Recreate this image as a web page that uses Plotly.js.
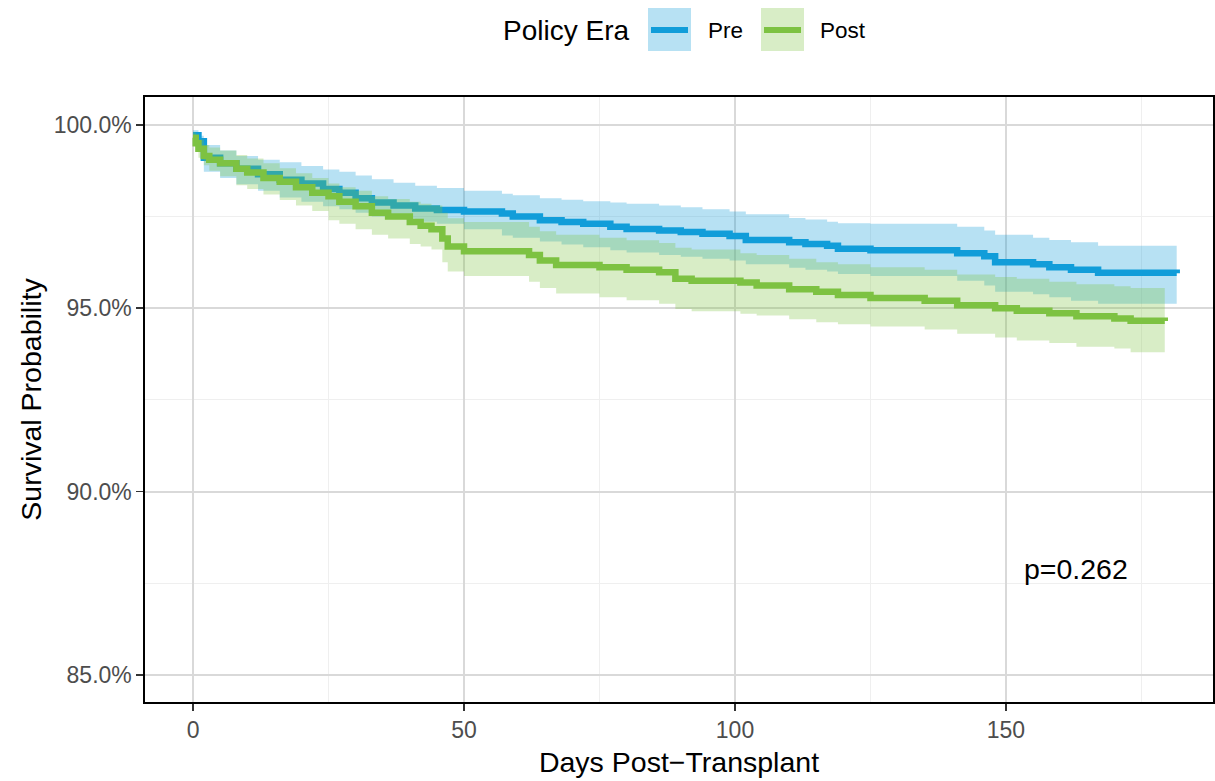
<!DOCTYPE html>
<html>
<head>
<meta charset="utf-8">
<script src="https://cdn.plot.ly/plotly-3.0.1.min.js"></script>
<style>html,body{margin:0;padding:0;background:#fff;}#chart{width:1215px;height:781px;}</style>
</head>
<body>
<div id="chart"></div>
<script>
// ---- Data (survival probability, %) ----
const preDays  = [0, 1, 2, 5, 8, 12, 16, 20, 24, 27, 30, 33, 37, 41, 45, 50, 57, 59, 64, 68, 72, 77, 80, 86, 90, 94, 99, 102, 110, 113, 117, 119, 125, 141, 146, 148, 155, 158, 162, 167, 181.5];
const preSurv  = [99.72, 99.55, 99.1, 98.95, 98.8, 98.65, 98.5, 98.4, 98.25, 98.15, 98.0, 97.88, 97.8, 97.72, 97.68, 97.64, 97.58, 97.5, 97.4, 97.35, 97.3, 97.22, 97.16, 97.12, 97.08, 97.03, 96.97, 96.86, 96.8, 96.75, 96.7, 96.62, 96.58, 96.5, 96.42, 96.25, 96.2, 96.12, 96.05, 95.97, 95.95];
const preUpper = [99.85, 99.7, 99.45, 99.3, 99.15, 99.05, 98.98, 98.88, 98.78, 98.72, 98.62, 98.52, 98.42, 98.34, 98.28, 98.2, 98.12, 98.08, 98.0, 97.96, 97.92, 97.88, 97.85, 97.8, 97.75, 97.7, 97.64, 97.56, 97.46, 97.42, 97.36, 97.32, 97.3, 97.22, 97.12, 97.0, 96.92, 96.86, 96.8, 96.7, 96.67];
const preLower = [99.6, 99.4, 98.72, 98.55, 98.38, 98.2, 98.02, 97.9, 97.78, 97.7, 97.6, 97.5, 97.44, 97.36, 97.3, 97.15, 96.98, 96.92, 96.82, 96.74, 96.66, 96.58, 96.52, 96.45, 96.4, 96.35, 96.3, 96.2, 96.1, 96.05, 96.0, 95.93, 95.88, 95.75, 95.62, 95.45, 95.38, 95.3, 95.2, 95.12, 95.1];

const postDays  = [0, 0.5, 1, 2, 3, 5, 8, 10, 13, 16, 19, 22, 25, 27, 30, 33, 36, 40, 42, 44, 46, 47, 50, 62, 64, 67, 75, 80, 86, 89, 92, 101, 104, 110, 115, 119, 125, 135, 141, 148, 152, 158, 163, 170, 173, 179.3];
const postSurv  = [99.65, 99.5, 99.35, 99.15, 99.05, 98.95, 98.8, 98.7, 98.55, 98.45, 98.3, 98.15, 98.05, 97.9, 97.78, 97.6, 97.5, 97.35, 97.25, 97.15, 96.9, 96.68, 96.55, 96.45, 96.3, 96.18, 96.12, 96.05, 95.98, 95.8, 95.75, 95.7, 95.62, 95.52, 95.45, 95.36, 95.28, 95.2, 95.08, 95.0, 94.93, 94.86, 94.78, 94.72, 94.66, 94.65];
const postUpper = [99.8, 99.7, 99.6, 99.45, 99.38, 99.3, 99.18, 99.08, 98.95, 98.82, 98.68, 98.55, 98.4, 98.3, 98.2, 98.05, 97.98, 97.9, 97.85, 97.8, 97.6, 97.45, 97.35, 97.22, 97.1, 97.0, 96.92, 96.85, 96.78, 96.65, 96.6, 96.5, 96.45, 96.35, 96.25, 96.2, 96.12, 96.05, 95.92, 95.85, 95.8, 95.72, 95.65, 95.6, 95.55, 95.55];
const postLower = [99.5, 99.3, 99.1, 98.9, 98.75, 98.6, 98.35, 98.25, 98.1, 97.95, 97.8, 97.65, 97.4, 97.3, 97.15, 97.0, 96.9, 96.75, 96.68, 96.6, 96.25, 96.0, 95.88, 95.72, 95.55, 95.4, 95.3, 95.22, 95.12, 94.98, 94.92, 94.85, 94.8, 94.7, 94.62, 94.56, 94.5, 94.42, 94.3, 94.2, 94.12, 94.05, 93.95, 93.9, 93.8, 93.75];

const eraNames = ["Pre", "Post"];
const legendTitle = "Policy Era";
const pValueText = "p=0.262";
const xTickVals = [0, 50, 100, 150];
const yTickVals = [85, 90, 95, 100];

// ---- Styles ----
const preColor = "#119DD9";
const postColor = "#7DC242";
const preFill = "rgba(17,157,216,0.3)";
const postFill = "rgba(125,194,66,0.3)";

function band(x, lo, hi, fill) {
  return [
    {x: x, y: lo, type: "scatter", mode: "lines", line: {width: 0, shape: "hv"}, hoverinfo: "skip", showlegend: false},
    {x: x, y: hi, type: "scatter", mode: "lines", line: {width: 0, shape: "hv"}, fill: "tonexty", fillcolor: fill, hoverinfo: "skip", showlegend: false}
  ];
}
function curve(x, y, color, name) {
  return {x: x, y: y, type: "scatter", mode: "lines", name: name, line: {color: color, width: 6.5, shape: "hv"}, showlegend: false};
}

const traces = [].concat(
  band(preDays, preLower, preUpper, preFill),
  [curve(preDays, preSurv, preColor, eraNames[0])],
  band(postDays, postLower, postUpper, postFill),
  [curve(postDays, postSurv, postColor, eraNames[1])]
);

const FONT = "Liberation Sans, Arial, sans-serif";

// Manual legend (paper coordinates via pixel conversion)
const W = 1215, H = 781;
const mL = 145, mR = 2, mT = 97, mB = 79;
const pw = W - mL - mR, ph = H - mT - mB;
function px2x(px) { return (px - mL) / pw; }
function py2y(py) { return 1 - (py - mT) / ph; }

const shapes = [
  {type: "rect", xref: "paper", yref: "paper", x0: px2x(648), x1: px2x(691), y0: py2y(51), y1: py2y(8), fillcolor: preFill, line: {width: 0}},
  {type: "line", xref: "paper", yref: "paper", x0: px2x(651), x1: px2x(688), y0: py2y(30), y1: py2y(30), line: {color: preColor, width: 6}},
  {type: "rect", xref: "paper", yref: "paper", x0: px2x(761), x1: px2x(804), y0: py2y(51), y1: py2y(8), fillcolor: postFill, line: {width: 0}},
  {type: "line", xref: "paper", yref: "paper", x0: px2x(764), x1: px2x(801), y0: py2y(30), y1: py2y(30), line: {color: postColor, width: 6}}
];

const annotations = [
  {text: legendTitle, xref: "paper", yref: "paper", x: px2x(631), y: py2y(31), xanchor: "right", yanchor: "middle", showarrow: false, font: {family: FONT, size: 28, color: "#000"}},
  {text: eraNames[0], xref: "paper", yref: "paper", x: px2x(706), y: py2y(31), xanchor: "left", yanchor: "middle", showarrow: false, font: {family: FONT, size: 22.5, color: "#000"}},
  {text: eraNames[1], xref: "paper", yref: "paper", x: px2x(818), y: py2y(31), xanchor: "left", yanchor: "middle", showarrow: false, font: {family: FONT, size: 22.5, color: "#000"}},
  {text: pValueText, xref: "x", yref: "y", x: 163, y: 87.9, xanchor: "center", yanchor: "middle", showarrow: false, font: {family: FONT, size: 28.5, color: "#000"}}
];

const layout = {
  width: W, height: H,
  margin: {l: mL, r: mR, t: mT, b: mB, pad: 0},
  paper_bgcolor: "#fff", plot_bgcolor: "#fff",
  showlegend: false,
  font: {family: FONT},
  xaxis: {
    range: [-8.86, 188.2], tickvals: xTickVals, ticktext: xTickVals.map(String),
    showgrid: true, gridcolor: "#D9D9D9", gridwidth: 2,
    minor: {dtick: 25, tick0: 0, showgrid: true, gridcolor: "#EFEFEF", gridwidth: 1, ticklen: 0},
    zeroline: false, showline: true, mirror: true, linecolor: "#000", linewidth: 1.6,
    ticks: "outside", ticklen: 7, tickcolor: "#333", tickwidth: 1.5,
    tickfont: {family: FONT, size: 23, color: "#4D4D4D"},
    title: {text: "Days Post\u2212Transplant", font: {family: FONT, size: 28.5, color: "#000"}, standoff: 10}
  },
  yaxis: {
    range: [84.26, 100.76], tickvals: yTickVals, ticktext: yTickVals.map(v => v.toFixed(1) + "%"),
    showgrid: true, gridcolor: "#D9D9D9", gridwidth: 2,
    minor: {dtick: 2.5, tick0: 85, showgrid: true, gridcolor: "#EFEFEF", gridwidth: 1, ticklen: 0},
    zeroline: false, showline: true, mirror: true, linecolor: "#000", linewidth: 1.6,
    ticks: "outside", ticklen: 7, tickcolor: "#333", tickwidth: 1.5,
    tickfont: {family: FONT, size: 23, color: "#4D4D4D"},
    title: {text: "Survival Probability", font: {family: FONT, size: 28.5, color: "#000"}, standoff: 4}
  },
  shapes: shapes,
  annotations: annotations
};

Plotly.newPlot("chart", traces, layout, {displayModeBar: false, staticPlot: true});
</script>
</body>
</html>
